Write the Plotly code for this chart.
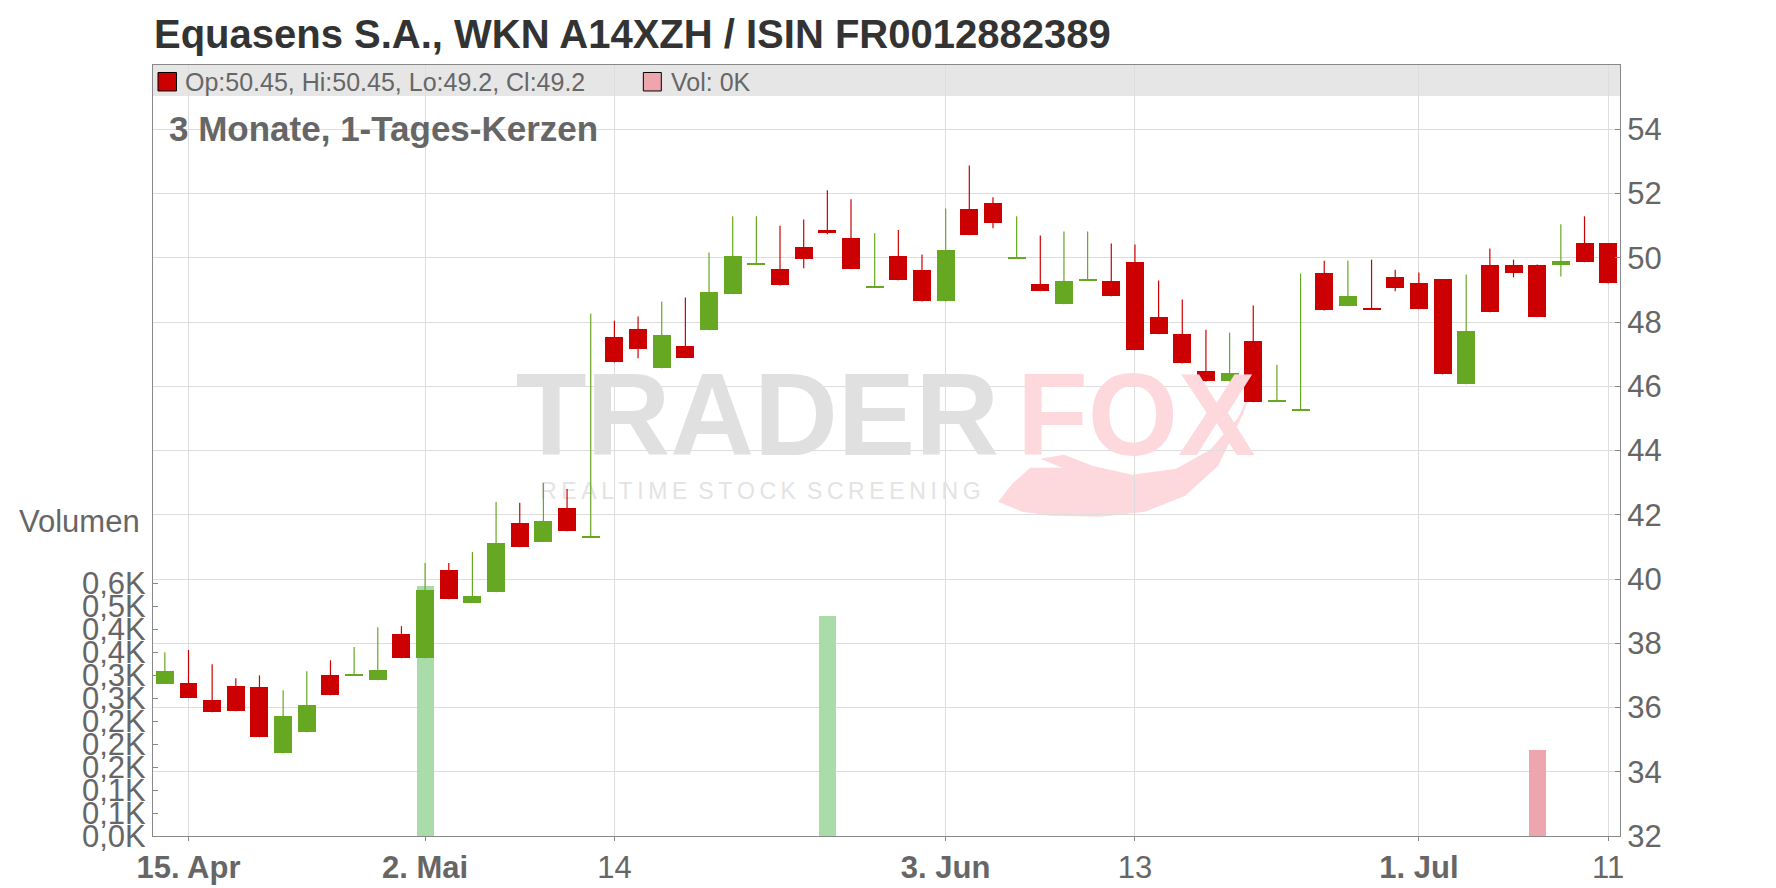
import plotly.graph_objects as go

# ---------------- data ----------------
open_ = [36.73, 36.76, 36.23, 36.66, 36.63, 34.57, 35.23, 37.00, 37.00, 36.85,
         38.28, 37.53, 40.28, 39.25, 39.59, 41.74, 41.15, 42.21, 41.30, 47.54,
         47.79, 46.56, 47.26, 47.74, 48.86, 49.78, 49.66, 50.35, 50.85, 50.63,
         49.06, 50.04, 49.63, 48.64, 51.53, 51.72, 49.98, 49.17, 48.55, 49.28,
         49.29, 49.88, 48.17, 47.64, 46.48, 46.15, 47.42, 45.51, 45.26, 49.51,
         48.49, 48.43, 49.41, 49.20, 49.33, 46.06, 49.79, 49.79, 49.79, 49.77,
         50.47, 50.45]
high = [37.72, 37.79, 37.35, 36.91, 37.00, 36.54, 37.13, 37.47, 37.88, 38.50,
        38.53, 40.50, 40.50, 40.84, 42.40, 42.37, 42.99, 42.80, 48.26, 48.04,
        48.17, 48.64, 48.76, 50.16, 51.29, 51.29, 51.00, 51.19, 52.10, 51.82,
        50.76, 50.86, 50.10, 51.53, 52.87, 51.88, 51.29, 50.69, 50.82, 50.82,
        50.44, 50.41, 49.29, 48.70, 47.76, 47.67, 48.51, 46.67, 49.51, 49.91,
        49.91, 49.94, 49.63, 49.54, 49.33, 49.48, 50.29, 49.94, 49.79, 51.04,
        51.29, 50.45]
low = [36.73, 36.29, 35.85, 35.88, 35.07, 34.57, 35.23, 36.38, 37.00, 36.85,
       37.53, 37.53, 39.37, 39.25, 39.59, 40.99, 41.15, 41.49, 41.30, 46.74,
       46.87, 46.56, 46.87, 47.74, 48.86, 49.78, 49.14, 49.67, 50.73, 49.64,
       49.06, 49.30, 48.64, 48.64, 50.70, 50.92, 49.98, 48.96, 48.55, 49.28,
       48.80, 47.12, 47.62, 46.71, 46.15, 46.15, 45.50, 45.51, 45.26, 48.36,
       48.49, 48.39, 48.96, 48.40, 46.37, 46.06, 48.30, 49.39, 48.15, 49.42,
       49.86, 49.20]
close = [37.13, 36.29, 35.85, 35.88, 35.07, 35.73, 36.07, 36.38, 37.00, 37.16,
         37.53, 39.65, 39.37, 39.47, 41.12, 40.99, 41.81, 41.49, 41.30, 46.74,
         47.15, 47.58, 46.87, 48.92, 50.04, 49.78, 49.14, 49.95, 50.80, 49.64,
         49.06, 49.30, 48.64, 50.23, 50.70, 51.08, 49.98, 48.96, 49.29, 49.28,
         48.80, 47.12, 47.62, 46.71, 46.15, 46.42, 45.50, 45.51, 45.26, 48.36,
         48.82, 48.39, 49.05, 48.40, 46.37, 47.73, 48.30, 49.52, 48.15, 49.91,
         49.86, 49.20]
volume = [0, 0, 0, 0, 0, 0, 0, 0, 0, 0,
          0, 543, 0, 0, 0, 0, 0, 0, 0, 0,
          0, 0, 0, 0, 0, 0, 0, 0, 479, 0,
          0, 0, 0, 0, 0, 0, 0, 0, 0, 0,
          0, 0, 0, 0, 0, 0, 0, 0, 0, 0,
          0, 0, 0, 0, 0, 0, 0, 0, 187, 0,
          0, 0]

x_tick_index = [1, 11, 19, 33, 41, 53, 61]
x_tick_labels = ["<b>15. Apr</b>", "<b>2. Mai</b>", "14", "<b>3. Jun</b>", "13",
                 "<b>1. Jul</b>", "11"]
price_ticks = [32, 34, 36, 38, 40, 42, 44, 46, 48, 50, 52, 54]
vol_tickvals = [0, 50, 100, 150, 200, 250, 300, 350, 400, 450, 500, 550]
vol_ticktext = ["0,0K", "0,1K", "0,1K", "0,2K", "0,2K", "0,2K", "0,3K", "0,3K",
                "0,4K", "0,4K", "0,5K", "0,6K"]

title_text = "Equasens S.A., WKN A14XZH / ISIN FR0012882389"
subtitle_text = "3 Monate, 1-Tages-Kerzen"
legend_text = "Op:50.45, Hi:50.45, Lo:49.2, Cl:49.2"
legend_vol_text = "Vol: 0K"

# ---------------- styling ----------------
FONT = "Liberation Sans, Arial, sans-serif"
RED = "#cc0000"
GREEN = "#66a822"
VOL_GREEN = "#aadcaa"
VOL_RED = "#eda6ae"
GRID = "#dddddd"
AXIS = "#888888"
TXT = "#666666"

OFF = 8                      # page body margin of the exported html
W, H = 1776, 888
# plot area in page pixels
PL, PR, PT, PB = 152.5, 1620.0, 65.0, 836.5
L, R, T, B = PL - OFF, W - (PR - OFF), PT - OFF, H - (PB - OFF)
X_RANGE = [-0.5, 61.5]
P_RANGE = [32, 56]
V_RANGE = [0, 1677]


def px_x(x):
    return (x - PL) / (PR - PL)


def px_y(y):
    return (PB - y) / (PB - PT)


def dx(x):
    return X_RANGE[0] + (x - PL) / (PR - PL) * (X_RANGE[1] - X_RANGE[0])


def dy(y):
    return P_RANGE[0] + (PB - y) / (PB - PT) * (P_RANGE[1] - P_RANGE[0])


n = len(close)
xs = list(range(n))
up = [close[i] >= open_[i] for i in range(n)]
body_col = [GREEN if u else RED for u in up]
vol_col = [VOL_GREEN if (i == 0 or close[i] >= close[i - 1]) else VOL_RED for i in range(n)]

fig = go.Figure()

# volume (base y axis, left)
fig.add_trace(go.Bar(x=xs, y=volume, width=0.72, marker=dict(color=vol_col, line=dict(width=0)),
                     yaxis="y", hoverinfo="skip", showlegend=False))

# watermark (drawn underneath candles)
sp = "\u2009"
wm_small = (sp.join("REALTIME") + " " + sp + sp.join("STOCK") + " " + sp + sp.join("SCREENING"))
fig.add_trace(go.Scatter(
    x=[dx(757), dx(1136), dx(760)], y=[dy(426), dy(426), dy(494)],
    mode="text",
    text=["TRADER", "FOX", wm_small],
    textfont=dict(family=FONT, size=[116, 116, 23], color=["#e0e0e0", "#fdd8dd", "#e3e3e3"],
                  weight=["bold", "bold", "normal"]),
    textposition="middle center", yaxis="y2", hoverinfo="skip", showlegend=False))

# wicks
for flag, col in ((True, GREEN), (False, RED)):
    wx, wy = [], []
    for i in range(n):
        if up[i] == flag:
            wx += [i, i, None]
            wy += [low[i], high[i], None]
    fig.add_trace(go.Scatter(x=wx, y=wy, mode="lines", line=dict(color=col, width=1.2),
                             yaxis="y2", hoverinfo="skip", showlegend=False))

# bodies
base = [min(open_[i], close[i]) for i in range(n)]
hgt = [max(abs(close[i] - open_[i]), 0.04) for i in range(n)]
fig.add_trace(go.Bar(x=xs, y=hgt, base=base, width=0.76,
                     marker=dict(color=body_col, line=dict(width=0)),
                     yaxis="y2", hoverinfo="skip", showlegend=False))

# ---------------- decorations ----------------
tail = [(998, 502), (1022, 512), (1050, 516), (1100, 517), (1145, 512), (1185, 496),
        (1218, 466), (1243, 414), (1252, 388), (1238, 418), (1210, 450), (1176, 469),
        (1132, 475), (1092, 466), (1064, 455), (1040, 459), (1062, 468), (1030, 468),
        (1012, 484)]
tail_path = "M " + " L ".join(f"{px_x(a):.4f},{px_y(b):.4f}" for a, b in tail) + " Z"

shapes = [
    dict(type="rect", xref="paper", yref="paper", x0=0, x1=1, y0=px_y(96), y1=1,
         fillcolor="#e6e6e6", line=dict(width=0), layer="below"),
    dict(type="path", xref="paper", yref="paper", path=tail_path,
         fillcolor="#fdd8dd", line=dict(width=0), layer="below"),
    dict(type="rect", xref="paper", yref="paper", x0=px_x(157.5), x1=px_x(176),
         y0=px_y(91), y1=px_y(72.5), fillcolor=RED, line=dict(color="#000000", width=1)),
    dict(type="rect", xref="paper", yref="paper", x0=px_x(643), x1=px_x(661),
         y0=px_y(91), y1=px_y(72.5), fillcolor=VOL_RED, line=dict(color="#000000", width=1)),
]

annotations = [
    dict(text=f"<b>{title_text}</b>", xref="paper", yref="paper", x=px_x(151), y=px_y(34),
         xanchor="left", yanchor="middle", showarrow=False,
         font=dict(family=FONT, size=40, color="#333333")),
    dict(text=legend_text, xref="paper", yref="paper", x=px_x(183), y=px_y(82),
         xanchor="left", yanchor="middle", showarrow=False,
         font=dict(family=FONT, size=25, color=TXT)),
    dict(text=legend_vol_text, xref="paper", yref="paper", x=px_x(669), y=px_y(82),
         xanchor="left", yanchor="middle", showarrow=False,
         font=dict(family=FONT, size=25, color=TXT)),
    dict(text=f"<b>{subtitle_text}</b>", xref="paper", yref="paper", x=px_x(167), y=px_y(129),
         xanchor="left", yanchor="middle", showarrow=False,
         font=dict(family=FONT, size=35, color=TXT)),
    dict(text="Volumen", xref="paper", yref="paper", x=px_x(141), y=px_y(522),
         xanchor="right", yanchor="middle", showarrow=False,
         font=dict(family=FONT, size=31, color=TXT)),
]

fig.update_layout(
    width=W, height=H,
    margin=dict(l=L, r=R, t=T, b=B, pad=0),
    paper_bgcolor="#ffffff", plot_bgcolor="#ffffff",
    barmode="overlay", bargap=0,
    showlegend=False,
    font=dict(family=FONT, color=TXT),
    xaxis=dict(range=X_RANGE, tickmode="array", tickvals=x_tick_index, ticktext=x_tick_labels,
               showgrid=True, gridcolor=GRID, gridwidth=1, zeroline=False,
               showline=True, linecolor=AXIS, linewidth=1, mirror=True,
               ticks="outside", ticklen=4, tickcolor=AXIS,
               tickfont=dict(family=FONT, size=31, color=TXT)),
    yaxis=dict(range=V_RANGE, side="left", tickmode="array", tickvals=vol_tickvals,
               ticktext=vol_ticktext, showgrid=False, zeroline=False,
               showline=True, linecolor=AXIS, linewidth=1,
               ticks="inside", ticklen=5, tickcolor=AXIS,
               tickfont=dict(family=FONT, size=31, color=TXT)),
    yaxis2=dict(range=P_RANGE, side="right", overlaying="y", tickmode="array",
                tickvals=price_ticks, showgrid=True, gridcolor=GRID, gridwidth=1,
                zeroline=False, showline=True, linecolor=AXIS, linewidth=1,
                ticks="inside", ticklen=5, tickcolor=AXIS, ticklabelstandoff=0,
                tickfont=dict(family=FONT, size=31, color=TXT)),
    shapes=shapes,
    annotations=annotations,
)

fig.write_html("out.html")
